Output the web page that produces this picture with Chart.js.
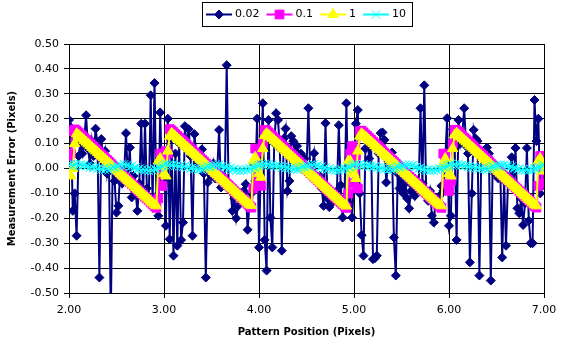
<!DOCTYPE html>
<html><head><meta charset="utf-8">
<script src="https://cdn.jsdelivr.net/npm/chart.js@4.4.0/dist/chart.umd.min.js"></script>
<style>html,body{margin:0;padding:0;background:#fff;}#wrap{width:568px;height:349px;}</style>
</head><body><div id="wrap"><canvas id="c" width="568" height="349"></canvas></div>
<script>
const positions = [
2.00,2.02,2.04,2.06,2.08,2.10,2.12,2.14,2.16,2.18,
2.20,2.22,2.24,2.26,2.28,2.30,2.32,2.34,2.36,2.38,
2.40,2.42,2.44,2.46,2.48,2.50,2.52,2.54,2.56,2.58,
2.60,2.62,2.64,2.66,2.68,2.70,2.72,2.74,2.76,2.78,
2.80,2.82,2.84,2.86,2.88,2.90,2.92,2.94,2.96,2.98,
3.00,3.02,3.04,3.06,3.08,3.10,3.12,3.14,3.16,3.18,
3.20,3.22,3.24,3.26,3.28,3.30,3.32,3.34,3.36,3.38,
3.40,3.42,3.44,3.46,3.48,3.50,3.52,3.54,3.56,3.58,
3.60,3.62,3.64,3.66,3.68,3.70,3.72,3.74,3.76,3.78,
3.80,3.82,3.84,3.86,3.88,3.90,3.92,3.94,3.96,3.98,
4.00,4.02,4.04,4.06,4.08,4.10,4.12,4.14,4.16,4.18,
4.20,4.22,4.24,4.26,4.28,4.30,4.32,4.34,4.36,4.38,
4.40,4.42,4.44,4.46,4.48,4.50,4.52,4.54,4.56,4.58,
4.60,4.62,4.64,4.66,4.68,4.70,4.72,4.74,4.76,4.78,
4.80,4.82,4.84,4.86,4.88,4.90,4.92,4.94,4.96,4.98,
5.00,5.02,5.04,5.06,5.08,5.10,5.12,5.14,5.16,5.18,
5.20,5.22,5.24,5.26,5.28,5.30,5.32,5.34,5.36,5.38,
5.40,5.42,5.44,5.46,5.48,5.50,5.52,5.54,5.56,5.58,
5.60,5.62,5.64,5.66,5.68,5.70,5.72,5.74,5.76,5.78,
5.80,5.82,5.84,5.86,5.88,5.90,5.92,5.94,5.96,5.98,
6.00,6.02,6.04,6.06,6.08,6.10,6.12,6.14,6.16,6.18,
6.20,6.22,6.24,6.26,6.28,6.30,6.32,6.34,6.36,6.38,
6.40,6.42,6.44,6.46,6.48,6.50,6.52,6.54,6.56,6.58,
6.60,6.62,6.64,6.66,6.68,6.70,6.72,6.74,6.76,6.78,
6.80,6.82,6.84,6.86,6.88,6.90,6.92,6.94,6.96,6.98,
7.00];

const err002 = [
0.195,0.165,-0.17,-0.10,-0.27,0.05,0.10,0.06,0.12,0.214,
0.08,0.02,0.11,0.05,0.16,0.10,-0.438,0.118,0.03,0.07,
-0.02,0.04,-0.60,0.02,-0.05,-0.177,-0.15,0.00,-0.06,-0.02,
0.142,-0.04,0.084,-0.116,-0.03,-0.09,-0.17,-0.06,0.18,-0.10,
0.18,-0.08,-0.12,0.294,-0.14,0.343,-0.11,-0.19,0.225,-0.05,
0.03,-0.23,0.20,-0.284,0.12,-0.35,0.06,-0.31,0.10,-0.287,
-0.217,0.17,0.09,0.158,0.05,-0.27,0.138,0.06,0.02,0.04,
0.077,-0.02,-0.438,-0.056,0.01,-0.03,0.02,-0.04,-0.01,0.155,
-0.076,-0.03,-0.05,0.415,-0.07,-0.09,-0.17,-0.12,-0.20,-0.15,
-0.11,-0.13,-0.09,-0.063,-0.246,-0.14,-0.10,0.02,-0.05,0.20,
-0.317,0.03,0.262,-0.287,-0.41,0.195,-0.197,-0.317,0.10,0.222,
0.195,0.08,-0.33,0.12,0.16,-0.09,-0.05,0.13,0.11,0.07,
0.09,0.05,0.06,0.02,0.04,0.00,0.242,-0.02,0.01,0.061,
-0.04,-0.06,-0.03,-0.08,-0.15,0.182,-0.12,-0.155,-0.14,-0.10,
-0.13,-0.09,0.174,-0.067,-0.197,-0.12,0.262,-0.14,-0.10,-0.197,
-0.05,0.18,0.235,-0.10,-0.268,-0.35,0.08,0.12,0.04,0.09,
-0.364,-0.36,-0.35,0.06,0.142,0.145,0.115,-0.056,0.03,0.00,
0.064,-0.277,-0.43,-0.02,-0.08,-0.04,-0.10,-0.06,-0.12,-0.16,
-0.09,-0.07,-0.11,-0.05,-0.08,0.242,-0.06,0.334,-0.10,-0.13,
-0.09,-0.19,-0.217,-0.12,-0.15,-0.11,-0.07,-0.09,0.03,0.202,
-0.23,-0.19,0.157,0.08,-0.287,0.195,0.10,0.14,0.242,0.09,
0.06,-0.377,-0.10,0.155,0.12,0.11,-0.43,0.05,0.07,0.03,
0.084,0.06,-0.45,0.02,-0.02,0.01,-0.04,-0.01,-0.357,-0.05,
-0.31,-0.06,-0.03,0.045,-0.08,0.082,-0.16,-0.18,-0.12,-0.227,
-0.14,0.082,-0.21,-0.30,-0.30,0.275,0.11,0.20,-0.10,-0.04,
-0.067];

const err01 = [
0.050,0.060,0.150,0.157,0.152,0.145,0.137,0.130,0.122,0.115,
0.108,0.100,0.093,0.086,0.078,0.071,0.063,0.056,0.049,0.041,
0.034,0.027,0.019,0.012,0.004,-0.003,-0.010,-0.018,-0.025,-0.033,
-0.040,-0.047,-0.055,-0.062,-0.069,-0.077,-0.084,-0.092,-0.099,-0.106,
-0.114,-0.121,-0.128,-0.136,-0.143,-0.151,-0.158,-0.120,0.060,-0.070,
0.050,0.070,0.060,0.158,0.153,0.146,0.138,0.131,0.123,0.116,
0.109,0.101,0.094,0.087,0.079,0.072,0.064,0.057,0.050,0.042,
0.035,0.028,0.020,0.013,0.005,-0.002,-0.009,-0.017,-0.024,-0.032,
-0.039,-0.046,-0.054,-0.061,-0.068,-0.076,-0.083,-0.091,-0.098,-0.105,
-0.113,-0.120,-0.127,-0.135,-0.142,-0.150,-0.157,-0.080,0.080,-0.050,
0.070,-0.070,0.100,0.155,0.152,0.145,0.137,0.130,0.122,0.115,
0.108,0.100,0.093,0.086,0.078,0.071,0.063,0.056,0.049,0.041,
0.034,0.027,0.019,0.012,0.004,-0.003,-0.010,-0.018,-0.025,-0.033,
-0.040,-0.047,-0.055,-0.062,-0.069,-0.077,-0.084,-0.092,-0.099,-0.106,
-0.114,-0.121,-0.128,-0.136,-0.143,-0.151,-0.158,-0.100,0.060,0.090,
-0.060,0.050,-0.080,0.150,0.152,0.145,0.137,0.130,0.122,0.115,
0.108,0.100,0.093,0.086,0.078,0.071,0.063,0.056,0.049,0.041,
0.034,0.027,0.019,0.012,0.004,-0.003,-0.010,-0.018,-0.025,-0.033,
-0.040,-0.047,-0.055,-0.062,-0.069,-0.077,-0.084,-0.092,-0.099,-0.106,
-0.114,-0.121,-0.128,-0.136,-0.143,-0.151,-0.158,0.060,0.050,-0.060,
-0.090,-0.050,0.100,0.155,0.153,0.146,0.138,0.131,0.123,0.116,
0.109,0.101,0.094,0.087,0.079,0.072,0.064,0.057,0.050,0.042,
0.035,0.028,0.020,0.013,0.005,-0.002,-0.009,-0.017,-0.024,-0.032,
-0.039,-0.046,-0.054,-0.061,-0.068,-0.076,-0.083,-0.091,-0.098,-0.105,
-0.113,-0.120,-0.127,-0.135,-0.142,-0.150,-0.157,-0.070,0.050,-0.060,
0.050];

const err1 = [
-0.020,-0.030,0.000,0.100,0.140,0.134,0.127,0.120,0.113,0.106,
0.099,0.092,0.085,0.078,0.071,0.064,0.057,0.050,0.043,0.036,
0.029,0.022,0.015,0.008,0.001,-0.006,-0.013,-0.020,-0.027,-0.034,
-0.041,-0.048,-0.055,-0.062,-0.069,-0.076,-0.083,-0.090,-0.097,-0.104,
-0.111,-0.118,-0.125,-0.132,-0.139,-0.146,-0.150,0.030,0.040,0.010,
-0.020,-0.030,0.070,0.130,0.142,0.135,0.128,0.121,0.114,0.107,
0.100,0.093,0.086,0.079,0.072,0.065,0.058,0.051,0.044,0.037,
0.030,0.023,0.016,0.009,0.002,-0.005,-0.012,-0.019,-0.026,-0.033,
-0.040,-0.047,-0.054,-0.061,-0.068,-0.075,-0.082,-0.089,-0.096,-0.103,
-0.110,-0.117,-0.124,-0.131,-0.138,-0.145,-0.149,0.030,0.045,0.000,
-0.020,-0.035,0.080,0.132,0.141,0.134,0.127,0.120,0.113,0.106,
0.099,0.092,0.085,0.078,0.071,0.064,0.057,0.050,0.043,0.036,
0.029,0.022,0.015,0.008,0.001,-0.006,-0.013,-0.020,-0.027,-0.034,
-0.041,-0.048,-0.055,-0.062,-0.069,-0.076,-0.083,-0.090,-0.097,-0.104,
-0.111,-0.118,-0.125,-0.132,-0.139,-0.146,-0.151,0.030,0.030,-0.010,
-0.020,-0.040,0.070,0.130,0.140,0.134,0.127,0.120,0.113,0.106,
0.099,0.092,0.085,0.078,0.071,0.064,0.057,0.050,0.043,0.036,
0.029,0.022,0.015,0.008,0.001,-0.006,-0.013,-0.020,-0.027,-0.034,
-0.041,-0.048,-0.055,-0.062,-0.069,-0.076,-0.083,-0.090,-0.097,-0.104,
-0.111,-0.118,-0.125,-0.132,-0.139,-0.146,-0.150,0.020,0.040,0.000,
-0.020,-0.030,0.080,0.135,0.142,0.135,0.128,0.121,0.114,0.107,
0.100,0.093,0.086,0.079,0.072,0.065,0.058,0.051,0.044,0.037,
0.030,0.023,0.016,0.009,0.002,-0.005,-0.012,-0.019,-0.026,-0.033,
-0.040,-0.047,-0.054,-0.061,-0.068,-0.075,-0.082,-0.089,-0.096,-0.103,
-0.110,-0.117,-0.124,-0.131,-0.138,-0.145,-0.150,0.030,0.040,0.010,
-0.010];

const err10 = [
0.012,0.018,0.010,0.016,0.020,0.012,0.017,0.010,0.014,0.008,
0.012,0.004,0.009,0.002,0.006,-0.002,0.003,-0.004,0.001,-0.006,
-0.002,-0.007,0.000,0.006,0.003,0.011,0.008,0.015,0.010,0.017,
0.012,0.014,0.006,0.009,0.001,0.004,-0.004,-0.001,-0.008,-0.003,
-0.009,-0.004,-0.010,-0.003,-0.008,0.000,-0.004,0.005,0.002,0.010,
0.014,0.019,0.011,0.017,0.012,0.018,0.010,0.015,0.008,0.013,
0.006,0.010,0.002,0.007,0.000,0.004,-0.003,0.002,-0.005,-0.001,
-0.006,0.000,0.004,0.009,0.006,0.013,0.010,0.016,0.011,0.015,
0.009,0.012,0.004,0.007,-0.001,0.003,-0.005,-0.002,-0.009,-0.004,
-0.010,-0.005,-0.008,-0.002,-0.007,0.001,-0.003,0.006,0.003,0.011,
0.013,0.017,0.012,0.019,0.014,0.018,0.011,0.016,0.009,0.012,
0.007,0.011,0.003,0.008,0.001,0.005,-0.002,0.003,-0.004,-0.001,
-0.005,-0.001,0.003,0.008,0.005,0.012,0.009,0.016,0.012,0.017,
0.011,0.013,0.005,0.008,0.000,0.004,-0.004,0.000,-0.007,-0.003,
-0.009,-0.004,-0.009,-0.002,-0.006,0.002,-0.002,0.007,0.004,0.012,
0.015,0.018,0.012,0.017,0.011,0.016,0.010,0.014,0.008,0.011,
0.005,0.009,0.002,0.006,-0.001,0.004,-0.003,0.001,-0.006,-0.002,
-0.007,-0.001,0.002,0.008,0.005,0.012,0.009,0.015,0.011,0.016,
0.010,0.013,0.005,0.008,0.000,0.003,-0.005,-0.001,-0.008,-0.004,
-0.010,-0.005,-0.009,-0.003,-0.007,0.000,-0.003,0.006,0.003,0.010,
0.013,0.018,0.011,0.016,0.012,0.019,0.011,0.015,0.009,0.013,
0.006,0.010,0.003,0.007,0.000,0.005,-0.002,0.002,-0.005,-0.001,
-0.006,0.000,0.003,0.009,0.006,0.013,0.010,0.016,0.012,0.016,
0.010,0.012,0.004,0.008,0.000,0.003,-0.004,-0.001,-0.008,-0.003,
-0.009,-0.004,-0.008,-0.002,-0.006,0.001,-0.002,0.006,0.004,0.011,
0.014];

const seriesNames = ['0.02', '0.1', '1', '10'];
const xTickValues = [2, 3, 4, 5, 6, 7];
const xTickLabels = ['2.00', '3.00', '4.00', '5.00', '6.00', '7.00'];
const yTickValues = [-0.5, -0.4, -0.3, -0.2, -0.1, 0, 0.1, 0.2, 0.3, 0.4, 0.5];
const yTickLabels = ['-0.50', '-0.40', '-0.30', '-0.20', '-0.10', '0.00', '0.10', '0.20', '0.30', '0.40', '0.50'];
const xTitle = 'Pattern Position (Pixels)';
const yTitle = 'Measurement Error (Pixels)';

Chart.defaults.font.family = '"DejaVu Sans", Verdana, sans-serif';

function drawMarker(ctx, style, r, x, y, color) {
  ctx.save();
  ctx.fillStyle = color; ctx.strokeStyle = color; ctx.lineWidth = 1;
  ctx.beginPath();
  if (style === 'rectRot') {
    ctx.moveTo(x, y - r); ctx.lineTo(x + r, y); ctx.lineTo(x, y + r); ctx.lineTo(x - r, y); ctx.closePath();
    ctx.fill(); ctx.stroke();
  } else if (style === 'rect') {
    const s = r * Math.SQRT1_2;
    ctx.rect(x - s, y - s, 2 * s, 2 * s); ctx.fill(); ctx.stroke();
  } else if (style === 'triangle') {
    ctx.moveTo(x - r * 0.866, y + r * 0.5); ctx.lineTo(x + r * 0.866, y + r * 0.5); ctx.lineTo(x, y - r); ctx.closePath();
    ctx.fill(); ctx.stroke();
  } else if (style === 'crossRot') {
    const d = r * Math.SQRT1_2;
    ctx.moveTo(x - d, y - d); ctx.lineTo(x + d, y + d);
    ctx.moveTo(x - d, y + d); ctx.lineTo(x + d, y - d);
    ctx.stroke();
  }
  ctx.restore();
}

const boxLegend = {
  id: 'boxLegend',
  afterDraw(chart) {
    const ctx = chart.ctx;
    ctx.save();
    ctx.font = '11px "DejaVu Sans", Verdana, sans-serif';
    const sw = 26, g1 = 3, g2 = 7, padL = 4, padR = 6;
    const ds = chart.data.datasets;
    const widths = ds.map(d => ctx.measureText(d.label).width);
    let total = padL + padR;
    ds.forEach((d, i) => { total += sw + g1 + widths[i] + (i < ds.length - 1 ? g2 : 0); });
    total = Math.round(total);
    const cx = (chart.chartArea.left + chart.chartArea.right) / 2;
    const x0 = Math.round(cx - total / 2);
    const top = 2, h = 24, cy = top + h / 2 + 0.5;
    ctx.fillStyle = '#fff';
    ctx.fillRect(x0, top, total, h);
    ctx.strokeStyle = '#000'; ctx.lineWidth = 1;
    ctx.strokeRect(x0 + 0.5, top + 0.5, total, h);
    let x = x0 + padL;
    ds.forEach((d, i) => {
      ctx.strokeStyle = d.borderColor; ctx.lineWidth = 2;
      ctx.beginPath(); ctx.moveTo(x, cy); ctx.lineTo(x + sw, cy); ctx.stroke();
      drawMarker(ctx, d.pointStyle, d.pointRadius, x + sw / 2, cy, d.borderColor);
      ctx.fillStyle = '#000'; ctx.textBaseline = 'middle'; ctx.textAlign = 'left';
      ctx.fillText(d.label, x + sw + g1, cy);
      x += sw + g1 + widths[i] + g2;
    });
    ctx.restore();
  }
};

const pts = ys => positions.map((x, i) => ({ x: x, y: ys[i] }));
const styles = [
  { color: '#000080', point: 'rectRot', r: 4.5, order: 3 },
  { color: '#FF00FF', point: 'rect', r: 6.2, order: 2 },
  { color: '#FFFF00', point: 'triangle', r: 6, order: 1 },
  { color: '#00FFFF', point: 'crossRot', r: 6, order: 0 }
];
const values = [err002, err01, err1, err10];
const datasets = values.map((v, i) => ({
  label: seriesNames[i],
  data: pts(v),
  borderColor: styles[i].color,
  backgroundColor: styles[i].color,
  pointBackgroundColor: styles[i].color,
  pointBorderColor: styles[i].color,
  pointStyle: styles[i].point,
  pointRadius: styles[i].r,
  pointBorderWidth: 1,
  borderWidth: 2,
  tension: 0,
  order: styles[i].order
}));

new Chart(document.getElementById('c'), {
  type: 'line',
  data: { datasets: datasets },
  options: {
    responsive: false,
    animation: false,
    devicePixelRatio: 1,
    layout: { padding: { top: 44, right: 24, left: 0, bottom: 0 } },
    plugins: { legend: { display: false }, tooltip: { enabled: false } },
    events: [],
    scales: {
      x: {
        type: 'linear', min: 2, max: 7,
        afterFit(s) { s.height = 56; },
        afterBuildTicks(s) { s.ticks = xTickValues.map(v => ({ value: v })); },
        ticks: { callback: (v, i) => xTickLabels[i], font: { size: 11 }, color: '#000', padding: 6, maxRotation: 0, autoSkip: false },
        grid: { color: '#000', lineWidth: 1, tickLength: 5, drawTicks: true },
        border: { color: '#000', width: 1 },
        title: { display: true, text: xTitle, font: { size: 10, weight: 'bold' }, color: '#000', padding: { top: 0, bottom: 11 } }
      },
      y: {
        type: 'linear', min: -0.5, max: 0.5,
        afterFit(s) { s.width = 69; },
        afterBuildTicks(s) { s.ticks = yTickValues.map(v => ({ value: v })); },
        ticks: { callback: (v, i) => yTickLabels[i], font: { size: 11 }, color: '#000', padding: 5, autoSkip: false },
        grid: { color: '#000', lineWidth: 1, tickLength: 5, drawTicks: true },
        border: { color: '#000', width: 1 },
        title: { display: true, text: yTitle, font: { size: 10, weight: 'bold' }, color: '#000', padding: { top: 6, bottom: 0 } }
      }
    }
  },
  plugins: [boxLegend]
});
</script></body></html>
